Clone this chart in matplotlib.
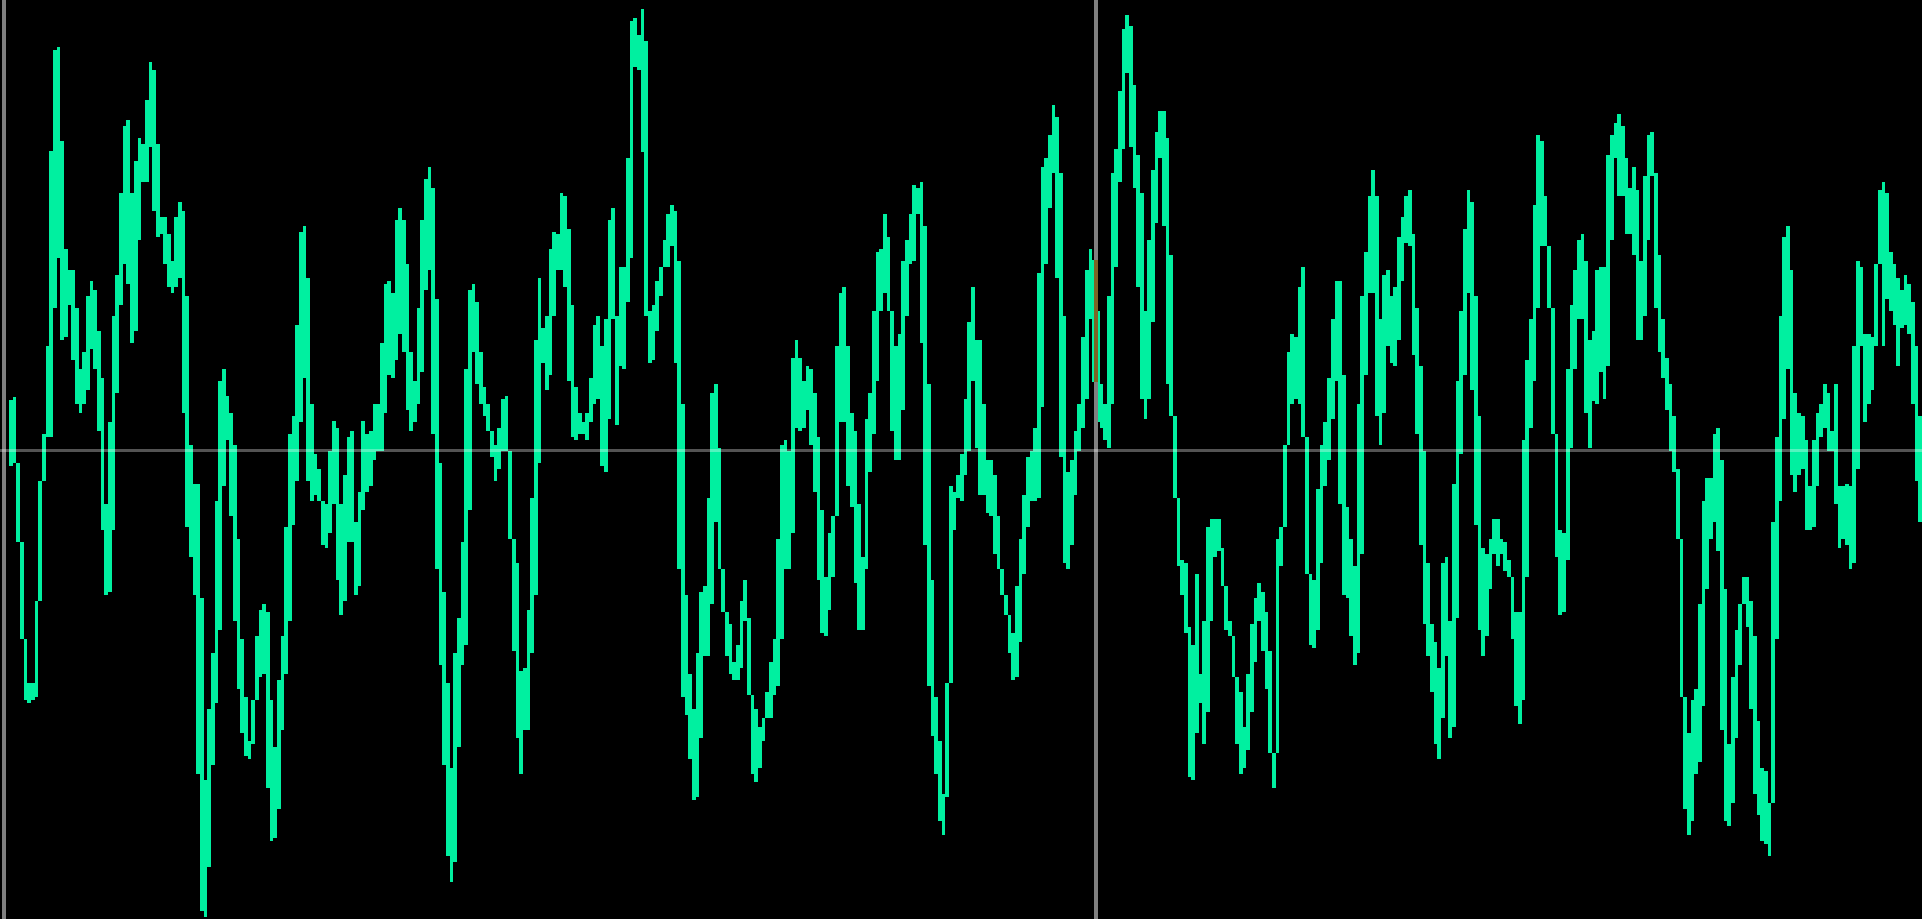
import numpy as np
import matplotlib
matplotlib.use('Agg')
import matplotlib.pyplot as plt

# waveform overview: per-column max / min of the samples (arbitrary units, 0 = centre line)
peak_hi = [
    # 1st sixth
    84, 90, -43, -158, -323, -398, -398, -258, -53, 27,
    177, 509, 682, 687, 527, 342, 307, 307, 242, 137,
    167, 262, 287, 272, 202, 122, -93, 47, 227, 297,
    437, 552, 562, 437, 492, 532, 522, 597, 662, 647,
    522, 397, 397, 367, 322, 397, 422, 407, 262, 7,
    -58, -58, -253, -563, -443, -348, -88, 117, 137, 92,
    62, 7, -153, -323, -423, -498, -428, -318, -273, -263,
    -278, -428, -508, -393, -318, -133, 27, 57, 212, 372,
    382, 292, 77, -8, -33, -88, -93,
    # 2nd
    -3, 49, 37, -93, -43, 22, 32, -123, -73, 49,
    27, 32, 77, 77, 182, 282, 287, 267, 392, 412,
    392, 317, 167, 117, 242, 392, 462, 482, 447, 257,
    -23, -243, -398, -543, -348, -288, -158, 137, 272, 282,
    252, 167, 107, 77, 32, 7, 37, 87, 92, -3,
    -153, -193, -378, -373, -273, -83, 187, 292, 207, 227,
    342, 372, 367, 437, 432, 377, 247, 107, 62, 47,
    62, 122, 212, 227, 177, 222, 392, 412, 227, 312,
    312, 497, 732, 737, 707, 752, 697,
    # 3rd
    237, 247, 287, 312, 357, 402, 417, 407, 322, 77,
    -248, -383, -443, -348, -243, -233, -83, 97, 112, 2,
    -218, -278, -298, -363, -333, -258, -223, -288, -423, -443,
    -473, -458, -413, -363, -323, -153, 7, 17, -3, 157,
    187, 157, 117, 142, 137, 97, 22, -103, -218, -143,
    -113, 177, 267, 277, 177, 62, 32, -93, -183, 52,
    97, 237, 337, 342, 402, 362, 177, 177, 197, 322,
    357, 402, 452, 447, 457, 382, 112, -223, -423, -498,
    -588, -398, -63, -73, -43, -8, 87,
    # 4th
    217, 277, 187, 187, 77, -18, -18, -43, -113, -203,
    -248, -283, -313, -233, -153, -78, -13, -3, 37, 302,
    482, 497, 537, 587, 567, 472, 227, -38, -18, 32,
    77, 192, 307, 342, 324, 237, 112, 77, 262, 472,
    512, 612, 717, 742, 722, 622, 502, 437, 237, 357,
    477, 542, 577, 577, 532, 332, 57, -118, -188, -193,
    -303, -333, -213, -383, -293, -133, -118, -118, -118, -168,
    -248, -293, -318, -393, -413, -473, -383, -298, -253, -228,
    -243, -278, -343, -518, -153, -133, 7,
    # 5th
    167, 197, 192, 277, 312, 22, -218, -223, -68, 7,
    47, 122, 222, 287, 287, 127, -98, -153, -198, 77,
    262, 337, 432, 477, 432, 222, 297, 307, 262, 277,
    362, 397, 432, 442, 367, 242, 142, -3, -193, -298,
    -328, -373, -193, -183, -293, -58, 117, 237, 377, 442,
    422, 262, 57, -168, -178, -153, -118, -118, -153, -158,
    -188, -228, -278, -278, 17, 152, 222, 417, 537, 527,
    432, 347, 207, -13, -138, -143, 137, 247, 307, 357,
    367, 322, 187, 202, 307, 312, 312, 502,
    # 6th
    537, 557, 572, 552, 497, 447, 482, 442, 322, 467,
    537, 542, 472, 332, 222, 157, 112, 57, -33, -198,
    -478, -483, -428, -408, -263, -88, -48, -48, 27, 37,
    -18, -238, -503, -388, -308, -263, -218, -218, -258, -318,
    -463, -543, -548, -603, -123, 22, 227, 362, 382, 307,
    97, 62, 57, 17, -63, 17, 62, 77, 112, 97,
    32, 112, -63, -63, -58, -63, 177, 322, 312, 197,
    197, 192, 317, 442, 457, 437, 337, 317, 292, 272,
    297, 282, 252, 177, 57,
]

peak_lo = [
    -28, -23, -158, -323, -428, -433, -428, -423, -218, -38,
    22, 22, 242, 327, 187, 192, 247, 152, 77, 62,
    77, 102, 172, 137, 32, -138, -248, -243, -138, 97,
    247, 317, 282, 182, 202, 357, 457, 457, 517, 407,
    362, 367, 317, 277, 267, 277, 292, 62, -133, -183,
    -248, -553, -788, -798, -713, -538, -433, -308, -63, 17,
    -113, -293, -408, -483, -523, -528, -503, -423, -388, -383,
    -578, -668, -663, -613, -478, -383, -293, -128, -53, 47,
    122, -53, -88, -78, -88, -163, -168,
    -143, -93, -223, -283, -258, -158, -158, -248, -233, -103,
    -73, -63, -18, -3, -3, 62, 127, 122, 152, 197,
    167, 67, 32, 47, 77, 132, 272, 307, 27, -203,
    -368, -538, -693, -738, -703, -508, -368, -333, -103, 167,
    112, 77, 57, 32, -13, -53, -33, -3, -3, -153,
    -343, -493, -553, -478, -478, -348, -248, -23, 147, 102,
    127, 227, 307, 307, 277, 117, 22, 17, 27, 27,
    17, 47, 77, 87, -28, -38, 52, 222, 42, 142,
    137, 252, 327, 652, 647, 507, 227,
    147, 152, 202, 262, 312, 312, 347, 147, -203, -423,
    -453, -528, -598, -593, -493, -353, -353, -263, -123, -203,
    -278, -353, -383, -393, -393, -373, -293, -418, -553, -568,
    -543, -498, -458, -458, -418, -403, -323, -203, -203, -143,
    37, 32, 37, 67, 7, -73, -223, -313, -318, -273,
    -218, -113, 47, 47, -63, -98, -228, -308, -308, -203,
    -38, 27, 117, 237, 267, 237, 32, -18, -18, 67,
    227, 317, 322, 402, 182, -163, -403, -488, -553, -633,
    -658, -593, -333, -138, -83, -88, -43,
    -3, 117, 2, -78, -78, -108, -113, -178, -203, -248,
    -283, -348, -393, -388, -328, -213, -133, -88, -88, -83,
    72, 317, 412, 472, 292, -13, -193, -203, -163, -78,
    -3, 37, 87, 222, 115, 47, 37, 17, 2, 77,
    312, 457, 512, 642, 517, 447, 277, 87, 52, 87,
    217, 387, 497, 382, 112, 57, -83, -198, -248, -313,
    -558, -563, -483, -433, -503, -448, -293, -183, -173, -233,
    -308, -318, -388, -503, -553, -543, -513, -448, -363, -293,
    -343, -408, -518, -578, -518, -198, -133,
    52, 77, 87, 77, 22, -213, -333, -338, -308, -193,
    -63, -18, 52, 117, -93, -248, -253, -318, -368, -348,
    -178, 127, 267, 267, 57, 7, 62, 177, 147, 142,
    187, 287, 352, 347, 162, 27, -163, -298, -353, -413,
    -503, -528, -458, -353, -493, -473, -288, -8, 127, 267,
    102, -128, -308, -353, -318, -238, -178, -198, -178, -208,
    -218, -323, -438, -468, -428, -218, 37, 117, 242, 347,
    347, 242, 27, -183, -283, -278, -188, 2, 137, 222,
    222, 62, 2, 82, 77, 132, 87, 142,
    357, 497, 432, 432, 367, 367, 332, 187, 187, 227,
    357, 467, 242, 167, 122, 67, -3, -38, -153, -423,
    -613, -658, -633, -553, -533, -438, -238, -153, -123, -173,
    -478, -633, -643, -603, -493, -368, -263, -303, -443, -588,
    -623, -668, -673, -693, -603, -323, -88, 52, 137, -43,
    -73, -43, -33, -138, -138, -133, -63, 22, 37, -3,
    -3, -93, -168, -153, -163, -203, -193, -33, 177, 47,
    77, 102, 177, 347, 177, 257, 237, 212, 142, 207,
    212, 197, 77, -53, -123,
]

playhead = 295          # column under the cursor
y_top, y_bottom = 767, -801

hi = np.array(peak_hi, dtype=float)
lo = np.array(peak_lo, dtype=float)
n = len(hi)
cols = np.arange(n)

# join each column to the previous one so the trace stays continuous
top = hi.copy()
bot = lo.copy()
top[1:] = np.maximum(hi[1:], lo[:-1])
bot[1:] = np.minimum(lo[1:], hi[:-1])

W, H = 1927, 919
plot_w = 1922           # white strip on the right
left_px = 9             # first column starts here
col_px = (plot_w - left_px) / n
px = 72 / 100           # points per pixel at dpi 100

fig = plt.figure(figsize=(W / 100, H / 100), dpi=100, facecolor='white')
ax = fig.add_axes([0, 0, plot_w / W, 1])
ax.set_facecolor('black')
for s in ax.spines.values():
    s.set_visible(False)
ax.set_xticks([])
ax.set_yticks([])

x0 = -0.5 - left_px / col_px
ax.set_xlim(x0, n - 0.5)
ax.set_ylim(y_bottom, y_top)

green = '#00f0a0'
ax.bar(cols, top - bot, bottom=bot, width=1.0, color=green, linewidth=0,
       antialiased=False, zorder=2)

# playhead cursor
ax.axvline(playhead + 0.5, color='#808080', lw=4 * px, zorder=3)
ax.vlines(playhead + 0.5, lo[playhead], hi[playhead], color='#7d6526',
          lw=4 * px, zorder=4)

# left border line
ax.axvline(x0 + 4 / col_px, color='#808080', lw=4 * px, zorder=5)

# centre line
ax.axhline(0, color='white', alpha=0.33, lw=3 * px, zorder=6)

fig.savefig('out.png', dpi=100, facecolor='white')
